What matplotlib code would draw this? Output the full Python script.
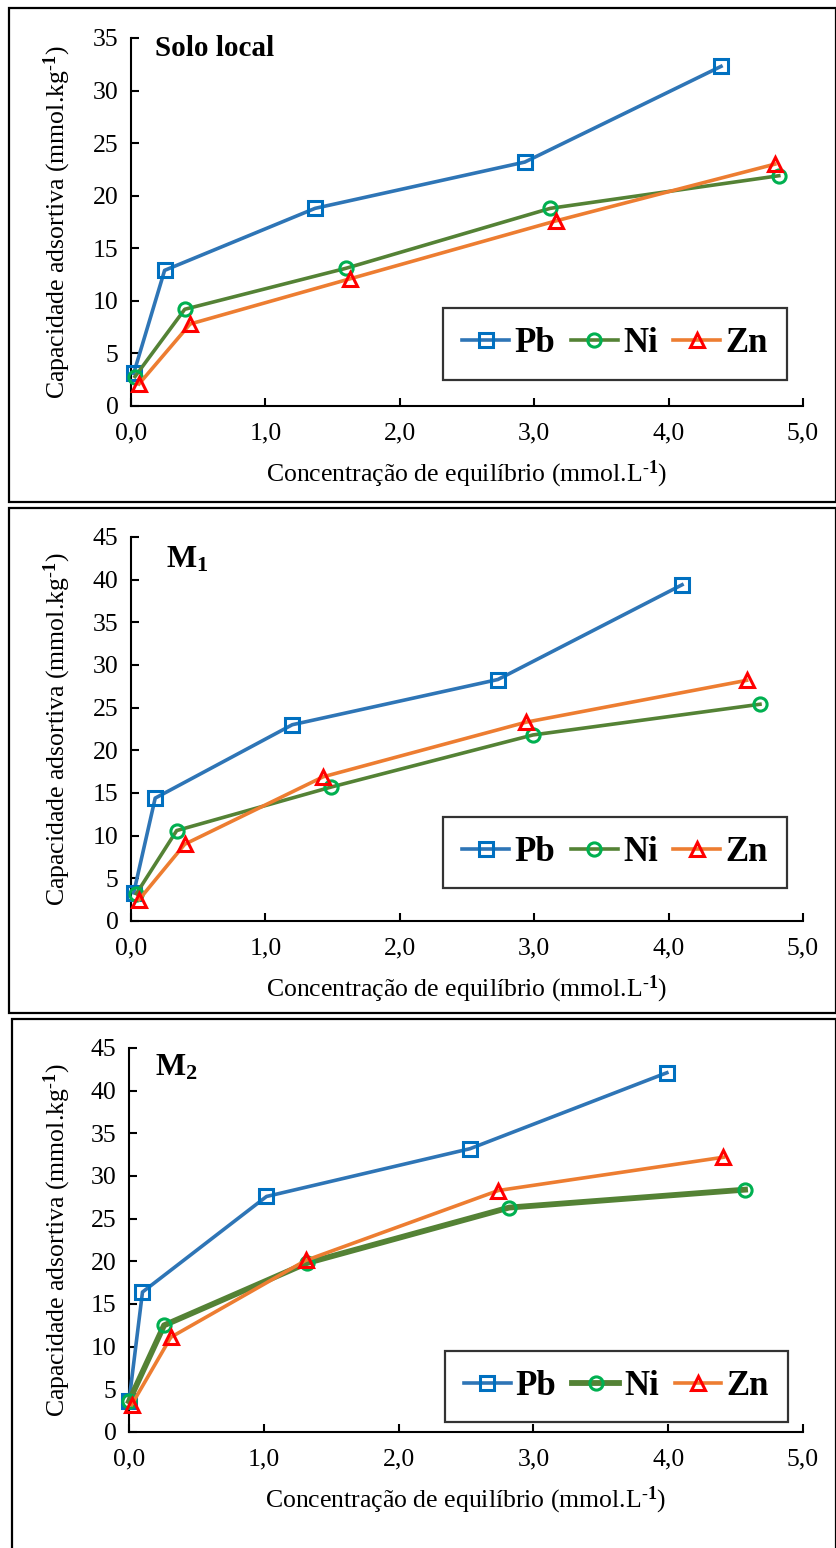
import matplotlib
matplotlib.use("Agg")
import matplotlib.pyplot as plt
from matplotlib.patches import Rectangle

plt.rcParams['font.family'] = ['Liberation Serif', 'DejaVu Serif']
plt.rcParams['mathtext.fontset'] = 'custom'
plt.rcParams['mathtext.rm'] = 'Liberation Serif'
plt.rcParams['mathtext.bf'] = 'Liberation Serif:bold'
plt.rcParams['mathtext.it'] = 'Liberation Serif:italic'

# ---------------- data ----------------
panel_titles = ["Solo local", r"M$_\mathbf{1}$", r"M$_\mathbf{2}$"]
series_names = ["Pb", "Ni", "Zn"]

# Solo local
solo_pb_x = [0.02, 0.25, 1.37, 2.93, 4.39]
solo_pb_y = [3.1, 12.9, 18.8, 23.2, 32.3]
solo_ni_x = [0.03, 0.40, 1.60, 3.12, 4.82]
solo_ni_y = [2.8, 9.2, 13.1, 18.8, 21.9]
solo_zn_x = [0.06, 0.44, 1.63, 3.16, 4.79]
solo_zn_y = [2.1, 7.8, 12.1, 17.6, 23.0]

# M1
m1_pb_x = [0.02, 0.18, 1.20, 2.73, 4.10]
m1_pb_y = [3.3, 14.4, 23.0, 28.3, 39.4]
m1_ni_x = [0.04, 0.34, 1.49, 2.99, 4.68]
m1_ni_y = [3.2, 10.6, 15.7, 21.8, 25.4]
m1_zn_x = [0.06, 0.40, 1.43, 2.94, 4.58]
m1_zn_y = [2.5, 9.0, 16.9, 23.3, 28.2]

# M2
m2_pb_x = [0.00, 0.10, 1.02, 2.53, 3.99]
m2_pb_y = [3.6, 16.4, 27.6, 33.2, 42.1]
m2_ni_x = [0.00, 0.26, 1.32, 2.82, 4.57]
m2_ni_y = [3.6, 12.5, 19.8, 26.3, 28.4]
m2_zn_x = [0.02, 0.31, 1.31, 2.74, 4.41]
m2_zn_y = [3.2, 11.1, 20.1, 28.3, 32.2]

x_ticks = [0, 1, 2, 3, 4, 5]
x_tick_labels = ["0,0", "1,0", "2,0", "3,0", "4,0", "5,0"]
y_max = [35, 45, 45]

panels = [
    [(solo_pb_x, solo_pb_y), (solo_ni_x, solo_ni_y), (solo_zn_x, solo_zn_y)],
    [(m1_pb_x, m1_pb_y), (m1_ni_x, m1_ni_y), (m1_zn_x, m1_zn_y)],
    [(m2_pb_x, m2_pb_y), (m2_ni_x, m2_ni_y), (m2_zn_x, m2_zn_y)],
]

# ---------------- styles ----------------
line_colors = ["#2E75B6", "#548235", "#ED7D31"]
marker_colors = ["#0070C0", "#00B050", "#FF0000"]
markers = ["s", "o", "^"]
ni_lw = [2.6, 2.6, 4.2]

W, H = 836, 1548
fig = plt.figure(figsize=(W / 100, H / 100), dpi=100)

# axes placement in pixel coords: left, right, top, bottom
ax_px = [(131, 803, 38, 406), (131, 803, 537, 921), (129, 803, 1048, 1432)]
box_px = [(9, 8, 836, 502), (9, 508, 836, 1013), (12, 1019, 836, 1560)]
title_px = [(155, 48), (166, 560), (155, 1068)]
title_fs = [21, 23, 23]
legend_anchor = [(0.976, 0.072), (0.976, 0.086), (0.978, 0.026)]

for (l, t, r, b) in box_px:
    fig.patches.append(Rectangle((l / W, 1 - b / H), (r - l) / W, (b - t) / H,
                                 transform=fig.transFigure, fill=False,
                                 edgecolor="black", linewidth=1.6))

fs = 18.5
sup = r"$^{\mathbf{\text{-}1}}$"
for i in range(3):
    l, r, t, b = ax_px[i]
    ax = fig.add_axes([l / W, 1 - b / H, (r - l) / W, (b - t) / H])
    for j in range(3):
        xs, ys = panels[i][j]
        lw = ni_lw[i] if j == 1 else 2.6
        ax.plot(xs, ys, color=line_colors[j], lw=lw, marker=markers[j],
                markersize=9.5, markerfacecolor="none",
                markeredgecolor=marker_colors[j], markeredgewidth=2.2,
                label=series_names[j], clip_on=False, zorder=3 + j)
    ax.set_xlim(0, 5)
    ax.set_ylim(0, y_max[i])
    ax.set_xticks(x_ticks)
    ax.set_xticklabels(x_tick_labels)
    ax.set_yticks(range(0, y_max[i] + 1, 5))
    for s in ["top", "right"]:
        ax.spines[s].set_visible(False)
    for s in ["left", "bottom"]:
        ax.spines[s].set_linewidth(1.5)
    ax.tick_params(direction="in", length=6, width=1.5, labelsize=fs, pad=9)
    ax.tick_params(axis="x", pad=12)
    ax.set_xlabel("Concentração de equilíbrio (mmol.L" + sup + ")",
                  fontsize=fs, labelpad=10)
    ax.set_ylabel("Capacidade adsortiva (mmol.kg" + sup + ")", fontsize=fs)
    ax.yaxis.set_label_coords((73 - l) / (r - l), 0.5)
    tx, ty = title_px[i]
    fig.text(tx / W, 1 - ty / H, panel_titles[i], fontsize=title_fs[i],
             fontweight="bold", ha="left", va="center")
    leg = ax.legend(loc="lower right", bbox_to_anchor=legend_anchor[i], ncol=3,
                    frameon=True, fancybox=False, edgecolor="black",
                    prop={"weight": "bold", "size": 25}, handlelength=1.35,
                    handletextpad=0.15, columnspacing=0.45, borderpad=0.55,
                    borderaxespad=0)
    leg.get_frame().set_linewidth(1.6)

fig.savefig("out.png", dpi=100)
